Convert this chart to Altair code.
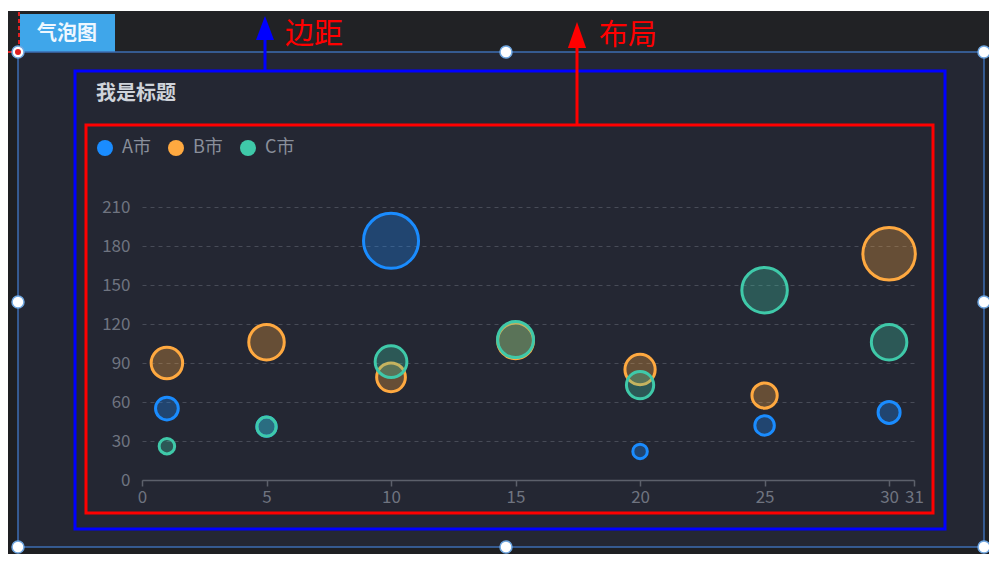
import altair as alt
import pandas as pd

# ---------------- data ----------------
cities = ["A市", "B市", "C市"]
city_colors = ["#1a8cff", "#ffa940", "#3fc9a9"]

a_x = [1, 5, 10, 20, 25, 30]
a_y = [55, 41, 184, 22, 42, 52]
b_x = [1, 5, 10, 15, 20, 25, 30]
b_y = [90, 106, 79, 107, 85, 65, 174]
c_x = [1, 5, 10, 15, 20, 25, 30]
c_y = [26, 41, 91, 108, 73, 146, 106]

y_ticks = [0, 30, 60, 90, 120, 150, 180, 210]
x_ticks = [0, 5, 10, 15, 20, 25, 30, 31]

chart_title = "我是标题"
tab_text = "气泡图"
note_margin = "边距"
note_layout = "布局"

FONT = "Noto Sans CJK SC"

rows = []
for city, xs, ys in zip(cities, [a_x, b_x, c_x], [a_y, b_y, c_y]):
    for xv, yv in zip(xs, ys):
        rows.append({"city": city, "x": xv, "y": yv})
df = pd.DataFrame(rows)

# ---------------- layout (page px -> plot px) ----------------
PL, PT = 142, 207          # plot origin on the page
W, H = 772, 273
RIGHT, BOTTOM = 984, 547   # panel frame right / bottom edge (page px)


def X(p):
    return p - PL


def Y(p):
    return p - PT


one = pd.DataFrame({"k": [0]})
base = alt.Chart(one)


def rect(x1, y1, x2, y2, **kw):
    return base.mark_rect(**kw).encode(
        x=alt.value(X(x1)), x2=alt.value(X(x2)),
        y=alt.value(Y(y1)), y2=alt.value(Y(y2)))


def rule(x1, y1, x2, y2, **kw):
    return base.mark_rule(**kw).encode(
        x=alt.value(X(x1)), x2=alt.value(X(x2)),
        y=alt.value(Y(y1)), y2=alt.value(Y(y2)))


def text(t, x, y, **kw):
    return base.mark_text(text=t, font=FONT, **kw).encode(
        x=alt.value(X(x)), y=alt.value(Y(y)))


def dot(x, y, **kw):
    return base.mark_point(**kw).encode(x=alt.value(X(x)), y=alt.value(Y(y)))


deco = []
# surroundings of the panel
deco.append(rect(8, 8, 990, 11, color="#ffffff"))
deco.append(rect(8, 11, 990, 52, color="#212225"))
deco.append(rect(8, 52, 18, 556, color="#1e1f22"))
deco.append(rect(RIGHT, 52, 990, 556, color="#1e1f22"))
deco.append(rect(18, BOTTOM, 990, 556, color="#1e1f22"))
# tab
deco.append(rect(20, 14, 115, 52, color="#3fa6ea"))
deco.append(text(tab_text, 67, 34, fontSize=20, fontWeight="bold",
                 color="#eef7ff", align="center", baseline="middle"))
# red dashed guide
deco.append(rule(19, 12, 19, 52, color="#e02020", strokeWidth=2, strokeDash=[4, 3]))
deco.append(rule(8, 52, 16, 52, color="#e02020", strokeWidth=2))
# panel border
deco.append(rect(18, 52, RIGHT, BOTTOM, fillOpacity=0, stroke="#3c6db3", strokeWidth=1.5))
# blue (margin) and red (layout) boxes
deco.append(rect(75, 71, 945, 529, fillOpacity=0, stroke="#0000ff", strokeWidth=3))
deco.append(rect(86, 125, 933, 513, fillOpacity=0, stroke="#ff0000", strokeWidth=3))
# arrows
deco.append(rule(265, 38, 265, 71, color="#0000ff", strokeWidth=3))
deco.append(dot(265, 28, shape="M0,-1L0.75,1L-0.75,1Z", size=576, filled=True,
                color="#0000ff", opacity=1))
deco.append(rule(577, 46, 577, 125, color="#ff0000", strokeWidth=3))
deco.append(dot(577, 35, shape="M0,-1L0.7,1L-0.7,1Z", size=676, filled=True,
                color="#ff0000", opacity=1))
deco.append(text(note_margin, 285, 35, fontSize=29, color="#ff0000",
                 align="left", baseline="middle"))
deco.append(text(note_layout, 599, 36, fontSize=29, color="#ff0000",
                 align="left", baseline="middle"))
# chart title
deco.append(text(chart_title, 96, 94, fontSize=20, fontWeight="bold",
                 color="#cfd3da", align="left", baseline="middle"))

# ---------------- bubbles ----------------
bubbles = alt.Chart(df).transform_calculate(
    d="pow(9 + datum.y / 4, 2)"
).mark_circle(fillOpacity=0.3, strokeWidth=3, strokeOpacity=1, opacity=1).encode(
    x=alt.X("x:Q",
            scale=alt.Scale(domain=[0, 31], nice=False, zero=False),
            axis=alt.Axis(values=x_ticks, grid=False, title=None,
                          domainColor="#5c606b", domainWidth=1.5,
                          tickColor="#5c606b", tickSize=6, tickWidth=1.5,
                          labelColor="#6f7480", labelFontSize=17, labelFont=FONT,
                          labelPadding=3, labelFlush=False, labelOverlap=False)),
    y=alt.Y("y:Q",
            scale=alt.Scale(domain=[0, 210], nice=False, zero=True),
            axis=alt.Axis(values=y_ticks, domain=False, ticks=False, tickSize=0,
                          grid=True, gridColor="#474b57", gridDash=[4, 4],
                          gridWidth=1, title=None, labelPadding=12,
                          labelColor="#6f7480", labelFontSize=17, labelFont=FONT)),
    color=alt.Color("city:N",
                    scale=alt.Scale(domain=cities, range=city_colors),
                    legend=alt.Legend(orient="none", legendX=X(96), legendY=Y(139),
                                      direction="horizontal", title=None,
                                      symbolType="circle", symbolSize=256,
                                      symbolStrokeWidth=0, symbolOpacity=1,
                                      labelFontSize=18, labelFont=FONT,
                                      labelColor="#8a8f9b", labelOffset=8,
                                      columnPadding=16, padding=0)),
    stroke=alt.Stroke("city:N",
                      scale=alt.Scale(domain=cities, range=city_colors),
                      legend=None),
    size=alt.Size("d:Q", scale=None, legend=None),
)

# handles on the panel frame
handles = []
for hx, hy in [(18, 52), (506, 52), (RIGHT, 52), (18, 302), (RIGHT, 302),
               (18, BOTTOM), (506, BOTTOM), (RIGHT, BOTTOM)]:
    handles.append(dot(hx, hy, shape="circle", size=144, filled=True,
                       fill="#ffffff", stroke="#6fa6e0", strokeWidth=1.5, opacity=1))
handles.append(dot(18, 52, shape="circle", size=36, filled=True,
                   color="#e02020", opacity=1))

chart = alt.layer(*deco, bubbles, *handles).properties(
    width=W, height=H,
    autosize=alt.AutoSizeParams(type="none"),
    padding={"left": 134, "top": 199, "right": 75, "bottom": 74},
    background="#242733",
).configure(font=FONT).configure_view(stroke="transparent", strokeWidth=0)

chart.save("out.html", embed_options={"renderer": "svg", "actions": False})
